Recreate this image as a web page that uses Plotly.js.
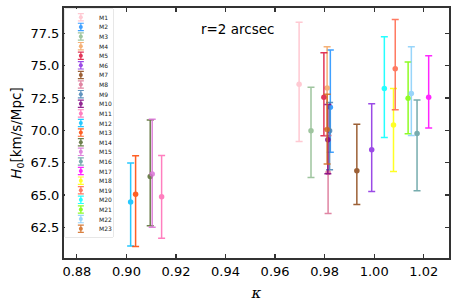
<!DOCTYPE html>
<html>
<head>
<meta charset="utf-8">
<script src="https://cdn.plot.ly/plotly-3.0.1.min.js"></script>
<style>html,body{margin:0;padding:0;background:#fff;}#chart{width:457px;height:306px;}</style>
</head>
<body>
<div id="chart"></div>
<script>
// ---- data ----
const names = ["M1","M2","M3","M4","M5","M6","M7","M8","M9","M10","M11","M12","M13","M14","M15","M16","M17","M18","M19","M20","M21","M22","M23"];
const kappa = [0.9697,0.9823,0.9745,0.9810,0.9797,0.9990,0.9930,0.9814,0.9820,0.9813,0.9142,0.9017,0.9037,0.9096,0.9104,1.0173,1.0220,1.0078,1.0085,1.0041,1.0137,1.0150,0.9810];
const h0    = [73.57,71.79,69.96,73.28,72.56,68.50,66.87,66.74,69.96,69.27,64.87,64.46,65.05,66.44,66.62,69.75,72.56,70.42,74.77,73.23,72.48,72.84,70.06];
const h0Upper = [78.35,76.21,73.33,76.47,76.00,72.05,70.48,69.60,72.15,72.00,68.06,67.47,68.03,70.80,70.85,72.35,75.77,73.23,78.58,77.24,75.29,76.47,72.80];
const h0Lower = [69.14,68.30,66.36,70.10,69.58,65.28,64.27,63.58,66.95,66.64,61.65,61.06,61.01,62.63,62.50,65.33,70.19,66.82,71.60,69.44,69.73,69.60,67.40];
const colors = ["#FFC0CB","#1E90FF","#8FBC8F","#F4A460","#DC143C","#8A2BE2","#8B4513","#DB7093","#4682B4","#800080","#FF69B4","#00BFFF","#FF4500","#556B2F","#DA70D6","#5F9EA0","#FF00FF","#FFFF00","#FF6347","#00FFFF","#7CFC00","#87CEFA","#D2691E"];
const xTicks = [0.88,0.90,0.92,0.94,0.96,0.98,1.00,1.02];
const yTicks = [62.5,65.0,67.5,70.0,72.5,75.0,77.5];

// ---- main traces ----
const traces = names.map((n, i) => ({
  type: 'scatter', mode: 'markers', name: n,
  x: [kappa[i]], y: [h0[i]],
  marker: {color: colors[i], size: 5.5},
  opacity: 0.85,
  error_y: {type: 'data', symmetric: false,
            array: [h0Upper[i] - h0[i]], arrayminus: [h0[i] - h0Lower[i]],
            color: colors[i], thickness: 1.5, width: 3.5},
  showlegend: false, hoverinfo: 'skip'
}));

// ---- custom compact legend (inset axes, one entry per series) ----
const legIdx = names.map((_, i) => i);
names.forEach((n, i) => {
  traces.push({
    type: 'scatter', mode: 'markers', xaxis: 'x2', yaxis: 'y2',
    x: [0.33], y: [legIdx[i]],
    marker: {color: colors[i], size: 4},
    opacity: 0.85,
    error_y: {type: 'constant', value: 0.38, color: colors[i], thickness: 1.2, width: 3},
    showlegend: false, hoverinfo: 'skip'
  });
});

const legendAnn = names.map((n, i) => ({
  xref: 'x2', yref: 'y2', x: 0.66, y: legIdx[i], text: n, showarrow: false,
  xanchor: 'left', yanchor: 'middle',
  font: {family: 'DejaVu Sans', size: 6, color: '#222'}
}));

const W = 457, H = 306, L = 64, R = 8, T = 8, B = 48;
const pw = W - L - R, ph = H - T - B;
const px = v => (v - L) / pw;
const py = v => (H - B - v) / ph;

const layout = {
  width: W, height: H,
  margin: {l: L, r: R, t: T, b: B, pad: 0},
  paper_bgcolor: '#fff', plot_bgcolor: '#fff',
  showlegend: false,
  font: {family: 'DejaVu Sans', size: 13, color: '#000'},
  xaxis: {
    range: [0.8748, 1.0302], tickvals: xTicks, ticktext: xTicks.map(v => v.toFixed(2)),
    ticks: 'inside', ticklen: 4, tickwidth: 1.2, tickcolor: '#333',
    showline: true, linecolor: '#333', linewidth: 2, mirror: 'ticks',
    showgrid: false, zeroline: false,
    title: {text: '<i>κ</i>', font: {family: 'DejaVu Serif', size: 15}, standoff: 10}
  },
  yaxis: {
    range: [60.13, 79.46], tickvals: yTicks, ticktext: yTicks.map(v => v.toFixed(1)),
    ticks: 'inside', ticklen: 4, tickwidth: 1.2, tickcolor: '#333',
    showline: true, linecolor: '#333', linewidth: 2, mirror: 'ticks',
    showgrid: false, zeroline: false,
    title: {text: '<i>H</i><sub>0</sub>[km/s/Mpc]', font: {family: 'DejaVu Sans', size: 13.5}, standoff: 6}
  },
  xaxis2: {domain: [px(65), px(113)], range: [0, 1], visible: false, fixedrange: true, anchor: 'y2'},
  yaxis2: {domain: [py(237), py(9)], range: [22.864, -0.864], visible: false, fixedrange: true, anchor: 'x2'},
  shapes: [{
    type: 'rect', xref: 'paper', yref: 'paper', layer: 'below',
    x0: px(65), x1: px(113), y0: py(237), y1: py(9),
    line: {color: '#d0d0d0', width: 1}, fillcolor: 'rgba(255,255,255,0.8)'
  }],
  annotations: [{
    xref: 'paper', yref: 'paper', x: px(237.5), y: py(29), text: 'r=2 arcsec', showarrow: false,
    xanchor: 'center', yanchor: 'middle', font: {family: 'DejaVu Sans', size: 13.5, color: '#000'}
  }].concat(legendAnn)
};

Plotly.newPlot('chart', traces, layout, {displayModeBar: false, staticPlot: true});
</script>
</body>
</html>
